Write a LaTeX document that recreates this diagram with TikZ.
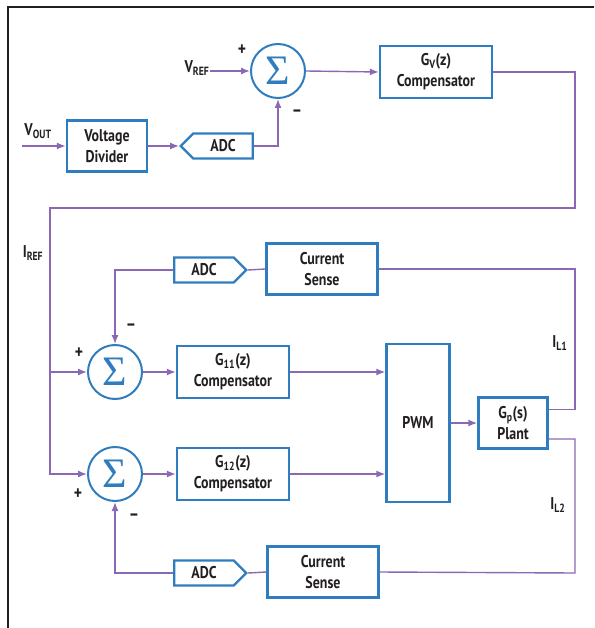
\documentclass[tikz,border=0pt]{standalone}
\usepackage{fontspec}
\setmainfont{PT Sans}[FakeStretch=0.82]
\newfontfamily\sigmafont{Liberation Serif}
\usetikzlibrary{shapes.symbols,arrows.meta,positioning}
\definecolor{dgBlue}{HTML}{2F7DBE}
\definecolor{dgPurple}{HTML}{8A68B4}
\definecolor{dgText}{HTML}{231F20}
\newcommand{\lsub}[1]{\textsubscript{#1}}

\begin{document}
\begin{tikzpicture}[x=1pt,y=-1pt,
  font=\fontsize{17}{21}\selectfont\bfseries,
  box/.style={draw=dgBlue,line width=2.4pt,fill=white,align=center,inner sep=2pt,text=dgText},
  blk/.style={box,minimum width=112pt,minimum height=52pt},
  sum/.style={circle,draw=dgBlue,line width=2pt,minimum size=54pt,inner sep=0pt,text=dgBlue,font=\sigmafont\mdseries\fontsize{42}{42}\selectfont},
  adc/.style={box,signal,signal from=nowhere,minimum width=72pt,minimum height=25pt,inner sep=1pt},
  ln/.style={draw=dgPurple,line width=1.4pt},
  ar/.style={ln,-{Latex[length=9pt,width=7pt]}},
  lbl/.style={text=dgText,inner sep=0pt},
  sgn/.style={text=dgText,inner sep=0pt,font=\fontsize{19}{19}\selectfont\bfseries}]

\useasboundingbox (0,0) rectangle (594,628);
\draw[line width=1.5pt,dgText] (8,628) -- (8,7) -- (594,7);

\node[sum] (s1) at (278,71) {Σ};
\node[blk] (gv) at (436,72) {G\lsub{V}(z)\\Compensator};
\node[box,minimum width=80pt,minimum height=51pt] (vd) at (107,146) {Voltage\\Divider};
\node[adc,signal to=west] (adc1) at (223,146) {ADC};
\node[lbl] (vref) at (197,68) {V\lsub{REF}};
\node[lbl] (vout) at (38,131) {V\lsub{OUT}};
\coordinate (vin) at (22,146);
\node[sgn] (p1) at (242,50) {+};
\node[sgn] (m1) at (297,113) {–};

\node[box,minimum width=111pt,minimum height=51pt] (cs1) at (322,269) {Current\\Sense};
\node[adc,signal to=east] (adc2) at (204,270) {ADC};
\node[sum] (s2) at (115,372) {Σ};
\node[blk] (g11) at (233,372) {G\lsub{11}(z)\\Compensator};
\node[box,minimum width=63pt,minimum height=158pt] (pwm) at (418,423) {PWM};
\node[box,minimum width=69pt,minimum height=51pt] (plant) at (513,423) {G\lsub{p}(s)\\Plant};
\node[sum] (s3) at (115,474) {Σ};
\node[blk] (g12) at (233,474) {G\lsub{12}(z)\\Compensator};
\node[adc,signal to=east] (adc3) at (204,573) {ADC};
\node[box,minimum width=111pt,minimum height=51pt] (cs2) at (323,572) {Current\\Sense};

\node[lbl] (iref) at (33,253) {I\lsub{REF}};
\node[lbl] (il1) at (560,343) {I\lsub{L1}};
\node[lbl] (il2) at (558,505) {I\lsub{L2}};
\node[sgn] (p2) at (79,353) {+};
\node[sgn] (m2) at (131,327) {–};
\node[sgn] (p3) at (78,494) {+};
\node[sgn] (m3) at (134,517) {–};

\coordinate (rt) at (575,208);
\coordinate (lt) at (50,208);
\coordinate (r1) at (575,269);
\coordinate (r2) at (575,573);

\draw[ar] (vin) -- (vd.west);
\draw[ar] (vref.east |- s1.west) -- (s1.west);
\draw[ar] (vd.east) -- (adc1.west);
\draw[ar] (adc1.east) -| (s1.south);
\draw[ar] (s1.east) -- (gv.west);
\draw[ar] (gv.east) -| (rt) -- (lt) |- (s3.west);
\draw[ar] (lt |- s2.west) -- (s2.west);

\draw[ln] (cs1.west) -- (adc2.east);
\draw[ar] (adc2.west) -| (s2.north);
\draw[ar] (s2.east) -- (g11.west);
\draw[ar] (g11.east) -- (pwm.west |- g11.east);
\draw[ar] (s3.east) -- (g12.west);
\draw[ar] (g12.east) -- (pwm.west |- g12.east);
\draw[ar] (pwm.east) -- (plant.west);
\draw[ln] ([yshift=13.5pt]plant.east) -| (r1) -- (cs1.east);
\draw[ln] ([yshift=-16pt]plant.east) -| (r2) -- (cs2.east);
\draw[ln] (cs2.west) -- (adc3.east);
\draw[ar] (adc3.west) -| (s3.south);
\end{tikzpicture}
\end{document}
